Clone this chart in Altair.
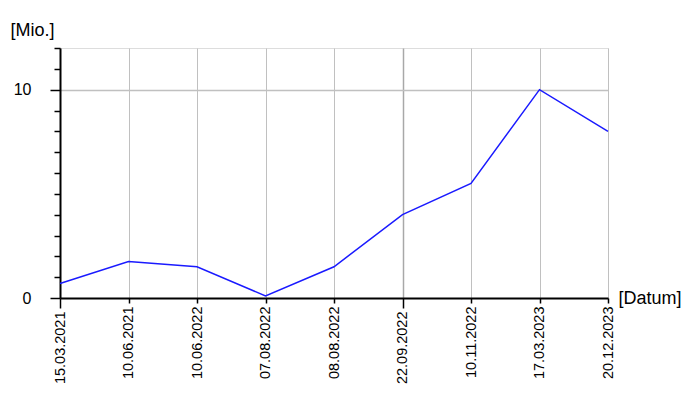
import altair as alt
import pandas as pd

dates = ["15.03.2021", "10.06.2021", "10.06.2022", "07.08.2022", "08.08.2022",
         "22.09.2022", "10.11.2022", "17.03.2023", "20.12.2023"]
values = [0.7, 1.75, 1.5, 0.1, 1.5, 4.0, 5.5, 10.0, 8.0]
y_ticks = list(range(0, 13))
major_dates = ["15.03.2021", "22.09.2022"]

df = pd.DataFrame({"Datum": dates, "Wert": values})

font = "Liberation Sans"

x_axis = alt.Axis(
    title="[Datum]", titleAngle=0, titleX=558, titleY=0, titleAlign="left",
    titleBaseline="middle", titleFont=font, titleFontSize=18, titleFontWeight="normal",
    titleColor="black",
    labelAngle=-90, labelFont=font, labelFontSize=14.5, labelColor="black",
    labelPadding=3, labelAlign="right", labelBaseline="middle",
    domainColor="black", domainWidth=2,
    tickColor="black", tickWidth=1.5,
    tickSize=alt.condition("indexof(%s, datum.value) >= 0" % str(major_dates).replace("'", '"'),
                           alt.value(10), alt.value(5)),
    grid=True,
    gridColor=alt.condition("datum.value == '22.09.2022'", alt.value("#a8a8a8"), alt.value("#c0c0c0")),
    gridWidth=alt.condition("datum.value == '22.09.2022'", alt.value(1.5), alt.value(1)),
    labelOverlap=False,
)

y_axis = alt.Axis(
    title="[Mio.]", titleAngle=0, titleX=-50, titleY=-18, titleAlign="left",
    titleBaseline="middle", titleFont=font, titleFontSize=18, titleFontWeight="normal",
    titleColor="black",
    values=y_ticks,
    labelExpr="datum.value % 10 == 0 ? datum.label : ''",
    labelFont=font, labelFontSize=16, labelColor="black", labelPadding=19,
    domainColor="black", domainWidth=2,
    tickColor="black", tickWidth=1.5,
    tickSize=alt.condition("datum.value % 10 == 0", alt.value(10), alt.value(6)),
    grid=True, gridColor="#c0c0c0", gridWidth=1.5,
    gridOpacity=alt.condition("datum.value == 10", alt.value(1), alt.value(0)),
)

chart = alt.Chart(df).mark_line(color="#1a1aff", strokeWidth=1.5).encode(
    x=alt.X("Datum:O", sort=dates, scale=alt.Scale(type="point", padding=0), axis=x_axis),
    y=alt.Y("Wert:Q", scale=alt.Scale(domain=[0, 12], nice=False), axis=y_axis),
).properties(
    width=548, height=250,
    autosize=alt.AutoSizeParams(type="none"),
    padding={"left": 52, "top": 40, "right": 84, "bottom": 86},
).configure_view(stroke=None).configure(background="white")

chart.save("out.html", embed_options={"renderer": "svg", "actions": False})
